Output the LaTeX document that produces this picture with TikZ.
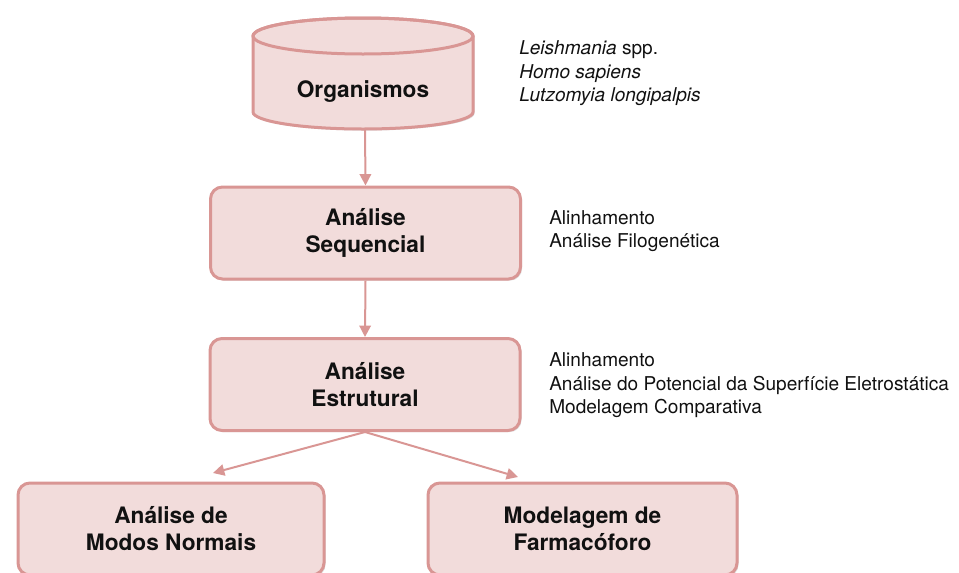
\documentclass[tikz,border=0pt]{standalone}
\usepackage{fontspec}
\setmainfont{TeX Gyre Heros}
\usetikzlibrary{arrows.meta,shadows}
\definecolor{boxfill}{RGB}{242,220,219}
\definecolor{boxline}{RGB}{217,150,148}
\definecolor{txt}{RGB}{17,17,17}
\tikzset{
  box/.style={draw=boxline, line width=2.25pt, fill=boxfill, rounded corners=9pt,
    minimum width=232.5pt, minimum height=69pt, align=center, text=txt,
    font=\fontsize{17}{20.25}\selectfont\bfseries,
    drop shadow={shadow xshift=1.2pt, shadow yshift=-1.2pt, opacity=0.25}},
  note/.style={anchor=west, inner sep=0pt, align=left, text=txt,
    font=\fontsize{14.3}{17.6}\selectfont},
  arr/.style={draw=boxline, line width=1.5pt, -{Triangle[length=8.5pt,width=8.5pt]}}
}
\begin{document}
\begin{tikzpicture}[x=0.75pt,y=-0.75pt]
    \useasboundingbox (0,0) rectangle (959,572);
    % cylinder
    \begin{scope}[draw=boxline, line width=2.25pt]
    \filldraw[fill=boxfill, drop shadow={shadow xshift=1.2pt, shadow yshift=-1.2pt, opacity=0.25}]
      (253,36) -- (253,112) arc[start angle=180, end angle=0, x radius=110, y radius=17]
      -- (473,36) arc[start angle=0, end angle=-180, x radius=110, y radius=18] -- cycle;
    \draw (363,36) ellipse [x radius=110, y radius=18];
    \end{scope}
    \node[text=txt, font=\fontsize{17}{20.25}\selectfont\bfseries] (org) at (363,92) {Organismos};
    \coordinate (org-bot) at (365,129);

    \node[box] (seq) at (365.5,233) {Análise\\Sequencial};
    \node[box] (est) at (365,384.5) {Análise\\Estrutural};
    \node[box, minimum width=229.5pt] (nm) at (171,529) {Análise de\\Modos Normais};
    \node[box, minimum width=231.75pt] (farm) at (582.5,529) {Modelagem de\\Farmacóforo};

    \coordinate (nm-tip) at (213,473);
    \coordinate (farm-tip) at (518,477);

    \draw[arr] (org-bot) -- (seq.north);
    \draw[arr] (seq.south) -- (est.north);
    \draw[arr] (est.south) -- (nm-tip);
    \draw[arr] (est.south) -- (farm-tip);

    % notes
    \node[note] (org-note) at (519,73.5) {\textit{Leishmania} spp.\\\textit{Homo sapiens}\\\textit{Lutzomyia longipalpis}};
    \node[note] (seq-note) at (549,231) {Alinhamento\\Análise Filogenética};
    \node[note] (est-note) at (549,385.5) {Alinhamento\\Análise do Potencial da Superfície Eletrostática\\Modelagem Comparativa};
\end{tikzpicture}
\end{document}
